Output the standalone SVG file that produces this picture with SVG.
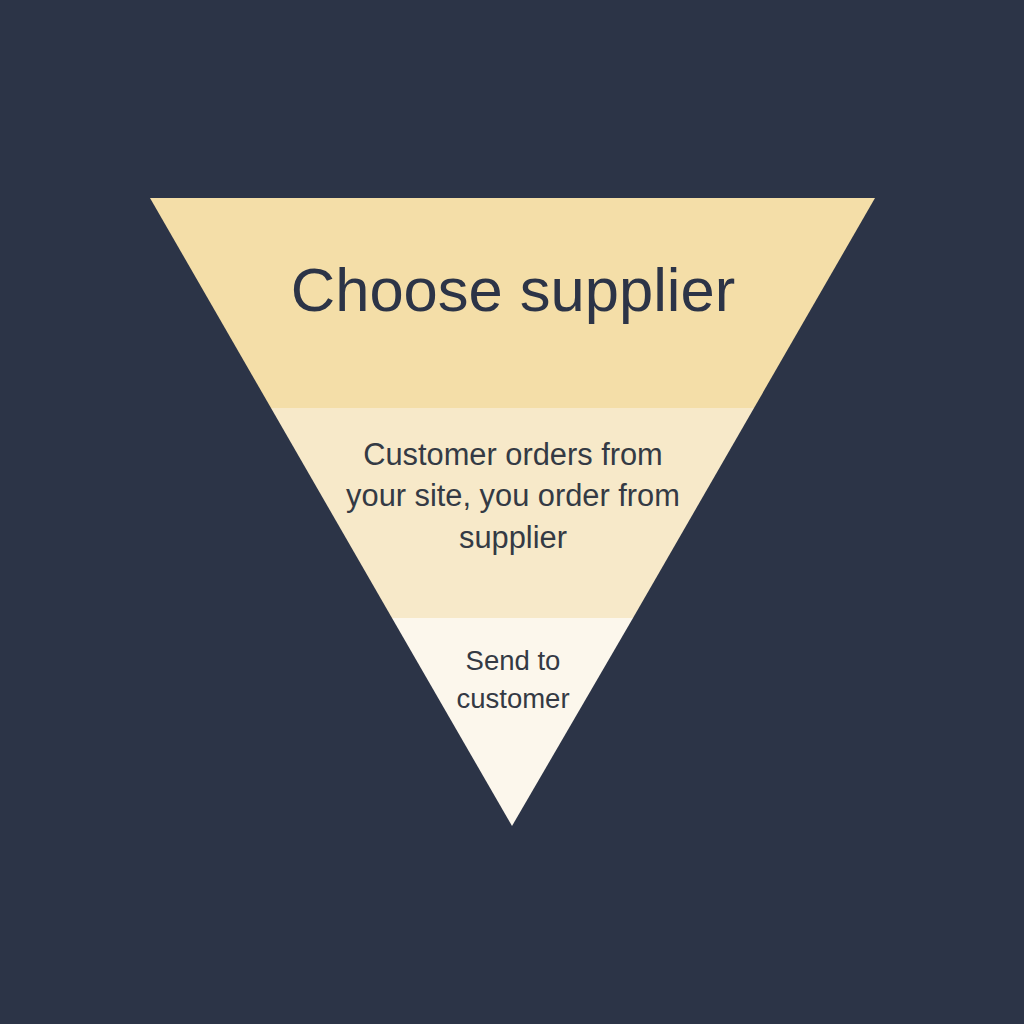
<svg xmlns="http://www.w3.org/2000/svg" width="1024" height="1024" viewBox="0 0 1024 1024">
<style>
.t{font-family:"Liberation Sans",Arial,sans-serif;text-anchor:middle;}
.title{font-size:61.5px;fill:#2c3447;}
.mid{font-size:30.8px;fill:#343a44;}
.low{font-size:27.5px;fill:#343a44;}
</style>
<rect width="1024" height="1024" fill="#2c3447"/>
<g id="tier1">
<polygon points="150,198 875,198 754,408 271,408" fill="#f4dea8"/>
<text class="t title" x="513" y="311">Choose supplier</text>
</g>
<g id="tier2">
<polygon points="271,408 754,408 633,618 392,618" fill="#f7e9c9"/>
<text class="t mid" x="513" y="465">Customer orders from</text>
<text class="t mid" x="513" y="506">your site, you order from</text>
<text class="t mid" x="513" y="548">supplier</text>
</g>
<g id="tier3">
<polygon points="392,618 633,618 512,826" fill="#fcf7ec"/>
<text class="t low" x="513" y="670">Send to</text>
<text class="t low" x="513" y="708">customer</text>
</g>
<g id="connectors"></g>
</svg>
